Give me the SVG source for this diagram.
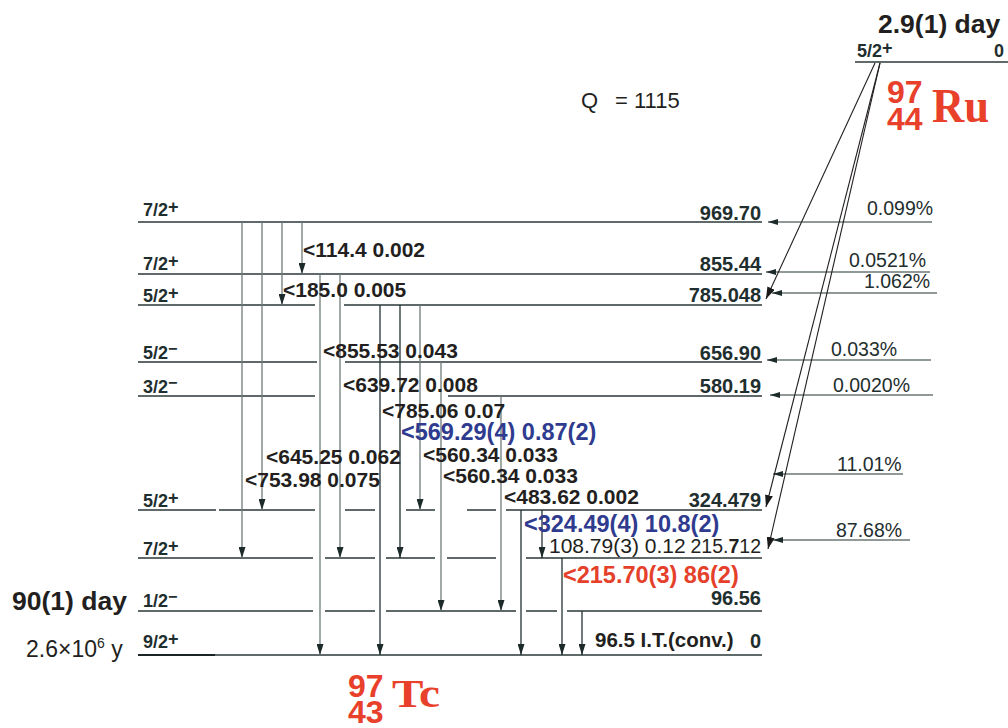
<svg xmlns="http://www.w3.org/2000/svg" width="1008" height="728" viewBox="0 0 1008 728">
<style>
text{font-family:"Liberation Sans",Arial,Helvetica,sans-serif;fill:#231f20}
.lv{stroke:#2b3939;stroke-width:1.5;fill:none}
.g{stroke:#6e7a7a;stroke-width:1.3;fill:none}
.d{stroke:#243232;stroke-width:1.3;fill:none}
.f{stroke:#243232;stroke-width:1.2;fill:none}
.s{stroke:#231f20;stroke-width:1.1;fill:none}
.lab{font-size:21px;font-weight:bold}
.col{font-size:23.5px;font-weight:bold}
.blue{fill:#2f3b8f}
.red{fill:#e5402a}
.en{font-size:20px;font-weight:bold;text-anchor:end;fill:#1f2e2e}
.sp{font-size:18px;font-weight:bold;fill:#1f2e2e}
.pc{font-size:19.5px;fill:#1f2e2e}
.nuc{fill:#e8402a;font-weight:bold}
.serif{font-family:"Liberation Serif","Times New Roman",serif}
</style>
<defs>
<marker id="av" markerUnits="userSpaceOnUse" viewBox="0 0 11 7" markerWidth="11" markerHeight="7" refX="11" refY="3.5" orient="auto"><path d="M0,0 L11,3.5 L0,7 z" fill="#1c2a2a"/></marker>
<marker id="ah" markerUnits="userSpaceOnUse" viewBox="0 0 10 6" markerWidth="10" markerHeight="6" refX="10" refY="3" orient="auto"><path d="M0,0 L10,3 L0,6 z" fill="#1c2a2a"/></marker>
<marker id="as" markerUnits="userSpaceOnUse" viewBox="0 0 12 8" markerWidth="12" markerHeight="8" refX="12" refY="4" orient="auto"><path d="M0,0 L12,4 L0,8 z" fill="#1a1a1a"/></marker>
</defs>

<rect width="1008" height="728" fill="#ffffff"/>

<!-- Parent 97Ru -->
<g id="ru-parent">
<path class="lv" d="M855,62 H1008"/>
<text class="sp" x="857" y="57">5/2<tspan dy="-3">+</tspan></text>
<text class="sp" x="1004" y="57" text-anchor="end">0</text>
<text x="878" y="33" font-size="26.5" font-weight="bold">2.9(1) day</text>
<text class="nuc" font-size="32"><tspan x="887" y="103">97</tspan><tspan x="887" y="130">44</tspan></text>
<text class="nuc serif" x="932" y="122" font-size="48" textLength="57" lengthAdjust="spacingAndGlyphs">Ru</text>
</g>

<g id="q-value">
<text x="581" y="108" font-size="22">Q</text>
<text x="615" y="108" font-size="22">= 1115</text>
</g>

<!-- Levels of 97Tc -->
<g id="level-969">
<path class="lv" d="M138,222 H762"/>
<text class="sp" x="143" y="216">7/2<tspan dy="-3">+</tspan></text>
<text class="en" x="761" y="220">969.70</text>
</g>
<g id="level-855">
<path class="lv" d="M138,274 H762"/>
<text class="sp" x="143" y="270">7/2<tspan dy="-3">+</tspan></text>
<text class="en" x="761" y="271">855.44</text>
</g>
<g id="level-785">
<path class="lv" d="M138,305 H315 M344,305 H762"/>
<text class="sp" x="143" y="302">5/2<tspan dy="-3">+</tspan></text>
<text class="en" x="761" y="302">785.048</text>
</g>
<g id="level-657">
<path class="lv" d="M138,362 H317 M345,362 H762"/>
<text class="sp" x="143" y="359">5/2<tspan dy="-5" font-size="16">−</tspan></text>
<text class="en" x="761" y="360">656.90</text>
</g>
<g id="level-580">
<path class="lv" d="M138,396 H315 M448,396 H762"/>
<text class="sp" x="143" y="393">3/2<tspan dy="-5" font-size="16">−</tspan></text>
<text class="en" x="761" y="393">580.19</text>
</g>
<g id="level-324">
<path class="lv" d="M138,510 H216 M219,510 H315 M345,510 H375 M406,510 H435 M467,510 H496 M506,510 H762"/>
<text class="sp" x="143" y="507">5/2<tspan dy="-3">+</tspan></text>
<text class="en" x="761" y="507">324.479</text>
</g>
<g id="level-216">
<path class="lv" d="M138,558 H313 M325,558 H375 M386,558 H435 M447,558 H496 M526,558 H762"/>
<text class="sp" x="143" y="555">7/2<tspan dy="-3">+</tspan></text>
<text x="761" y="553" font-size="19.5" text-anchor="end" fill="#1f2e2e">215.<tspan font-weight="bold">7</tspan>12</text>
</g>
<g id="level-97">
<path class="lv" d="M138,611 H313 M325,611 H375 M386,611 H516 M526,611 H557 M567,611 H762"/>
<text class="sp" x="143" y="607">1/2<tspan dy="-5" font-size="16">−</tspan></text>
<text class="en" x="761" y="605">96.56</text>
<text x="12" y="610" font-size="26.5" font-weight="bold">90(1) day</text>
</g>
<g id="level-0">
<path class="lv" d="M138,655 H762"/>
<path d="M138,655 H215" stroke="#1a2424" stroke-width="2"/>
<text class="sp" x="143" y="648">9/2<tspan dy="-3">+</tspan></text>
<text class="en" x="761" y="648">0</text>
<text x="26" y="657" font-size="23" fill="#1f2e2e">2.6×10<tspan font-size="14" dy="-9">6</tspan><tspan dy="9"> y</tspan></text>
</g>
<g id="tc-label">
<text class="nuc" font-size="32"><tspan x="348" y="697">97</tspan><tspan x="348" y="723">43</tspan></text>
<text class="nuc serif" x="392" y="707" font-size="40" textLength="48" lengthAdjust="spacingAndGlyphs">Tc</text>
</g>

<!-- Connectors -->
<g id="connectors">
<path class="g" d="M242,222 V558" marker-end="url(#av)"/>
<path class="g" d="M262,222 V510" marker-end="url(#av)"/>
<path class="g" d="M282,222 V305" marker-end="url(#av)"/>
<path class="g" d="M302,222 V274" marker-end="url(#av)"/>
<path class="g" d="M320,274 V655" marker-end="url(#av)"/>
<path class="g" d="M340,274 V558" marker-end="url(#av)"/>
<path class="d" d="M380,305 V655" marker-end="url(#av)"/>
<path class="d" d="M400,305 V558" marker-end="url(#av)"/>
<path class="g" d="M420,305 V510" marker-end="url(#av)"/>
<path class="g" d="M441,362 V611" marker-end="url(#av)"/>
<path class="g" d="M501,396 V611" marker-end="url(#av)"/>
<path class="d" d="M521,510 V655" marker-end="url(#av)"/>
<path class="d" d="M542,510 V558" marker-end="url(#av)"/>
<path class="d" d="M562,558 V655" marker-end="url(#av)"/>
<path class="d" d="M582,611 V655" marker-end="url(#av)"/>
<path class="f" d="M932,222 H768" marker-end="url(#ah)"/>
<path class="f" d="M930,272 H766" marker-end="url(#ah)"/>
<path class="f" d="M937,293 H772" marker-end="url(#ah)"/>
<path class="f" d="M931,360 H767" marker-end="url(#ah)"/>
<path class="f" d="M933,395 H770" marker-end="url(#ah)"/>
<path class="f" d="M903,474 H773" marker-end="url(#ah)"/>
<path class="f" d="M910,540 H773" marker-end="url(#ah)"/>
<path class="s" d="M875,63 L766,299" marker-end="url(#as)"/>
<path class="s" d="M880,63 L766,507" marker-end="url(#as)"/>
<path class="s" d="M880,63 L768,549" marker-end="url(#as)"/>
</g>

<g id="gamma-labels">
<text class="lab" x="303" y="257">&lt;114.4 0.002</text>
<text class="lab" x="283" y="297">&lt;185.0 0.005</text>
<text class="lab" x="323" y="358">&lt;855.53 0.043</text>
<text class="lab" x="343" y="392">&lt;639.72 0.008</text>
<text class="lab" x="382" y="418">&lt;785.06 0.07</text>
<text class="col blue" x="401" y="440">&lt;569.29(4) 0.87(2)</text>
<text class="lab" x="423" y="462">&lt;560.34 0.033</text>
<text class="lab" x="266" y="464">&lt;645.25 0.062</text>
<text class="lab" x="443" y="483">&lt;560.34 0.033</text>
<text class="lab" x="245" y="487">&lt;753.98 0.075</text>
<text class="lab" x="504" y="504">&lt;483.62 0.002</text>
<text class="col blue" x="524" y="532">&lt;324.49(4) 10.8(2)</text>
<text x="549" y="553" font-size="21">108.79(3) 0.12</text>
<text class="col red" x="563" y="583">&lt;215.70(3) 86(2)</text>
<text x="595" y="647" font-size="20.5" font-weight="bold">96.5 I.T.(conv.)</text>
</g>
<g id="ec-labels">
<text class="pc" x="867" y="215">0.099%</text>
<text class="pc" x="849" y="267">0.0521%</text>
<text class="pc" x="864" y="288">1.062%</text>
<text class="pc" x="831" y="356">0.033%</text>
<text class="pc" x="833" y="392">0.0020%</text>
<text class="pc" x="837" y="471">11.01%</text>
<text class="pc" x="836" y="537">87.68%</text>
</g>
</svg>
